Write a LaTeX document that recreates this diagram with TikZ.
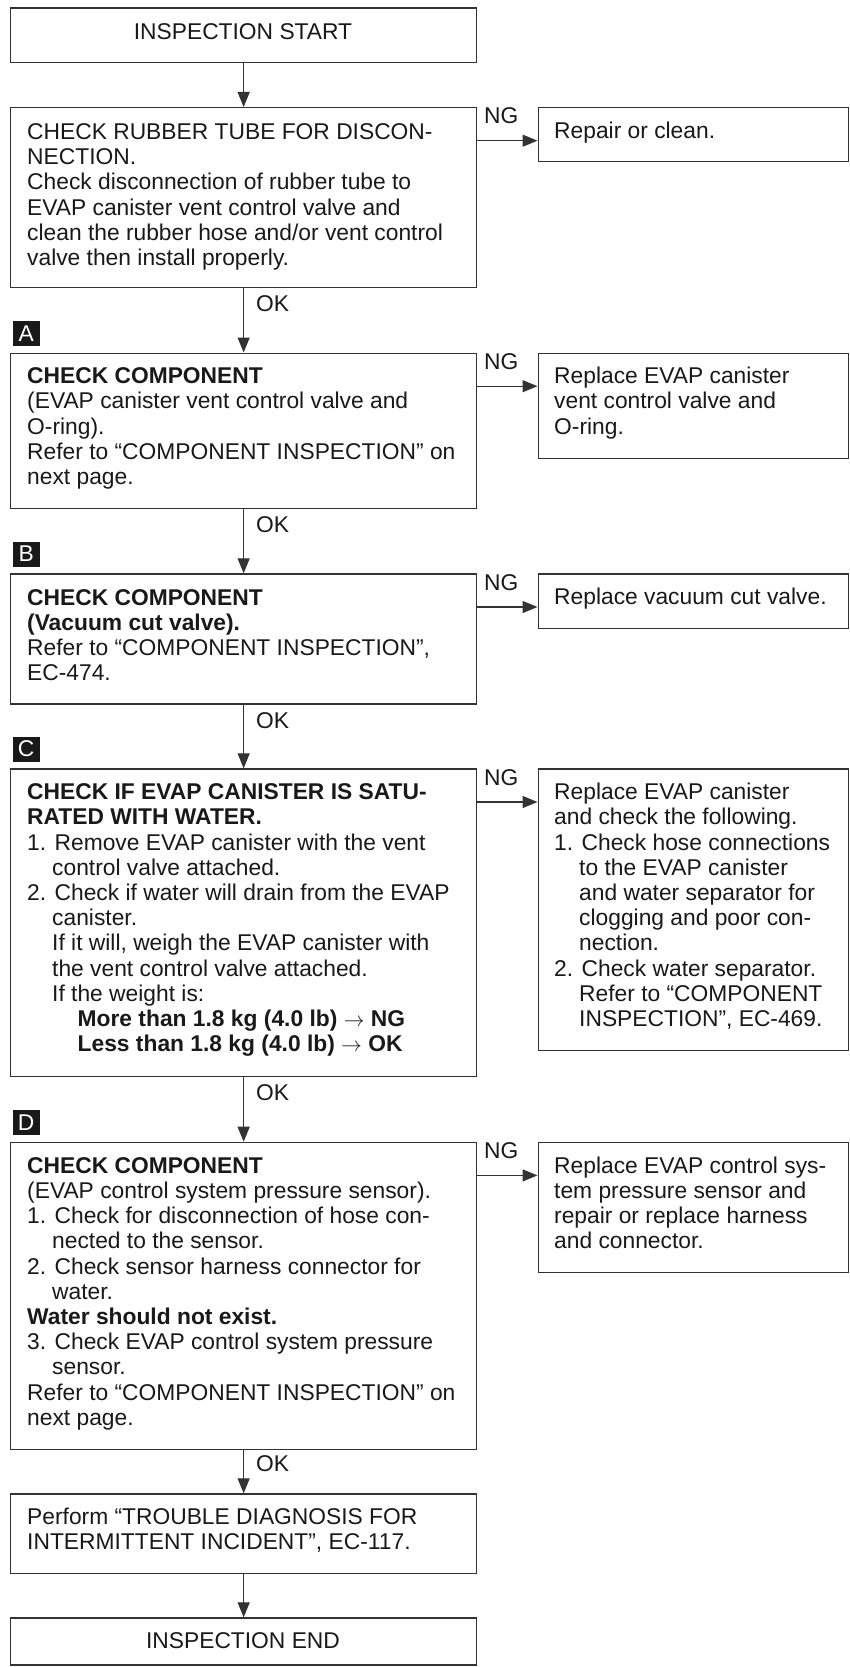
\documentclass[tikz,border=0pt]{standalone}
\usepackage{fontspec}
\setmainfont{Liberation Sans}
\usetikzlibrary{arrows.meta}
\newcommand\bodyfont{\fontsize{22.8pt}{25.2pt}\selectfont}
\newcommand\indentone{\hspace*{25pt}}
\newcommand\indenttwo{\hspace*{50.5pt}}
\definecolor{lc}{gray}{0.2}
\definecolor{tc}{gray}{0.1}

\begin{document}
\begin{tikzpicture}[x=1pt,y=-1pt,
  frame/.style={draw=lc, line width=1.3pt, inner sep=0pt, anchor=north west},
  body/.style={anchor=north west, inner sep=0pt, align=left, yshift=17.64pt, font=\bodyfont, text=tc},
  lbl/.style={anchor=base west, inner sep=0pt, font=\bodyfont, text=tc},
  ctr/.style={anchor=base, inner sep=0pt, font=\bodyfont, text=tc},
  badge/.style={anchor=north west, fill=black!90, text=white, minimum width=27pt, minimum height=25pt, inner sep=0pt, font=\bodyfont},
  conn/.style={draw=lc, line width=1.3pt, -{Triangle[length=15pt,width=12pt]}}]

\fill[white] (0,0) rectangle (850,1667);
\useasboundingbox (0,0) rectangle (850,1667);

% main column boxes
\node[frame, minimum width=466pt, minimum height=54.4pt]  (start) at (10,7.3) {};
\node[frame, minimum width=466pt, minimum height=180pt]   (b1)    at (10,107) {};
\node[frame, minimum width=466pt, minimum height=155.5pt] (bA)    at (10,352.5) {};
\node[frame, minimum width=466pt, minimum height=130pt]   (bB)    at (10,573.3) {};
\node[frame, minimum width=466pt, minimum height=307.2pt] (bC)    at (10,768.3) {};
\node[frame, minimum width=466pt, minimum height=307.3pt] (bD)    at (10,1141.7) {};
\node[frame, minimum width=466pt, minimum height=79.4pt]  (perf)  at (10,1493.3) {};
\node[frame, minimum width=466pt, minimum height=47pt]    (fin)   at (10,1617.3) {};

% remedy boxes on the right
\node[frame, minimum width=310.5pt, minimum height=54pt]    (r1) at (537.5,107) {};
\node[frame, minimum width=310.5pt, minimum height=105.2pt] (rA) at (537.5,352.5) {};
\node[frame, minimum width=310.5pt, minimum height=54.7pt]  (rB) at (537.5,573.3) {};
\node[frame, minimum width=310.5pt, minimum height=281.7pt] (rC) at (537.5,768.3) {};
\node[frame, minimum width=310.5pt, minimum height=130pt]   (rD) at (537.5,1141.7) {};

% step markers
\node[badge] (mA) at (12.5,320.5)  {A};
\node[badge] (mB) at (12.5,541.3)  {B};
\node[badge] (mC) at (12.5,736.3)  {C};
\node[badge] (mD) at (12.5,1109.7) {D};

% texts
\node[ctr] (tstart) at (243,39.3) {INSPECTION START};

\node[body] (t1) at (27,139.3) {\strut CHECK RUBBER TUBE FOR DISCON-\\
NECTION.\\
Check disconnection of rubber tube to\\
EVAP canister vent control valve and\\
clean the rubber hose and/or vent control\\
valve then install properly.};

\node[body] (tr1) at (554,138) {\strut Repair or clean.};

\node[body] (tA) at (27,383.5) {\strut\textbf{CHECK COMPONENT}\\
(EVAP canister vent control valve and\\
O-ring).\\
Refer to “COMPONENT INSPECTION” on\\
next page.};

\node[body] (trA) at (554,383.5) {\strut Replace EVAP canister\\
vent control valve and\\
O-ring.};

\node[body] (tB) at (27,605) {\strut\textbf{CHECK COMPONENT}\\
\textbf{(Vacuum cut valve).}\\
Refer to “COMPONENT INSPECTION”,\\
EC-474.};

\node[body] (trB) at (554,604.5) {\strut Replace vacuum cut valve.};

\node[body] (tC) at (27,799.5) {\strut\textbf{CHECK IF EVAP CANISTER IS SATU-}\\
\textbf{RATED WITH WATER.}\\
1. Remove EVAP canister with the vent\\
\indentone control valve attached.\\
2. Check if water will drain from the EVAP\\
\indentone canister.\\
\indentone If it will, weigh the EVAP canister with\\
\indentone the vent control valve attached.\\
\indentone If the weight is:\\
\indenttwo\textbf{More than 1.8 kg (4.0 lb) $\rightarrow$ NG}\\
\indenttwo\textbf{Less than 1.8 kg (4.0 lb) $\rightarrow$ OK}};

\node[body] (trC) at (554,799.5) {\strut Replace EVAP canister\\
and check the following.\\
1. Check hose connections\\
\indentone to the EVAP canister\\
\indentone and water separator for\\
\indentone clogging and poor con-\\
\indentone nection.\\
2. Check water separator.\\
\indentone Refer to “COMPONENT\\
\indentone INSPECTION”, EC-469.};

\node[body] (tD) at (27,1173) {\strut\textbf{CHECK COMPONENT}\\
(EVAP control system pressure sensor).\\
1. Check for disconnection of hose con-\\
\indentone nected to the sensor.\\
2. Check sensor harness connector for\\
\indentone water.\\
\textbf{Water should not exist.}\\
3. Check EVAP control system pressure\\
\indentone sensor.\\
Refer to “COMPONENT INSPECTION” on\\
next page.};

\node[body] (trD) at (554,1173) {\strut Replace EVAP control sys-\\
tem pressure sensor and\\
repair or replace harness\\
and connector.};

\node[body] (tP) at (27,1524) {\strut Perform “TROUBLE DIAGNOSIS FOR\\
INTERMITTENT INCIDENT”, EC-117.};

\node[ctr] (tfin) at (243,1648.3) {INSPECTION END};

% OK / NG labels
\node[lbl] (ok1) at (256,311.7)  {OK};
\node[lbl] (okA) at (256,532.7)  {OK};
\node[lbl] (okB) at (256,728.3)  {OK};
\node[lbl] (okC) at (256,1100.7) {OK};
\node[lbl] (okD) at (256,1471.7) {OK};

\node[lbl] (ng1) at (484,124)    {NG};
\node[lbl] (ngA) at (484,369.5)  {NG};
\node[lbl] (ngB) at (484,590.3)  {NG};
\node[lbl] (ngC) at (484,785.3)  {NG};
\node[lbl] (ngD) at (484,1158.7) {NG};

% flow down the main column
\draw[conn] (start.south) -- (b1.north);
\draw[conn] (b1.south) -- (bA.north);
\draw[conn] (bA.south) -- (bB.north);
\draw[conn] (bB.south) -- (bC.north);
\draw[conn] (bC.south) -- (bD.north);
\draw[conn] (bD.south) -- (perf.north);
\draw[conn] (perf.south) -- (fin.north);

% NG branches
\draw[conn] ([yshift=-33.7pt]b1.north east) -- ([yshift=-33.7pt]r1.north west);
\draw[conn] ([yshift=-33.7pt]bA.north east) -- ([yshift=-33.7pt]rA.north west);
\draw[conn] ([yshift=-33.7pt]bB.north east) -- ([yshift=-33.7pt]rB.north west);
\draw[conn] ([yshift=-33.7pt]bC.north east) -- ([yshift=-33.7pt]rC.north west);
\draw[conn] ([yshift=-33.7pt]bD.north east) -- ([yshift=-33.7pt]rD.north west);
\end{tikzpicture}
\end{document}
